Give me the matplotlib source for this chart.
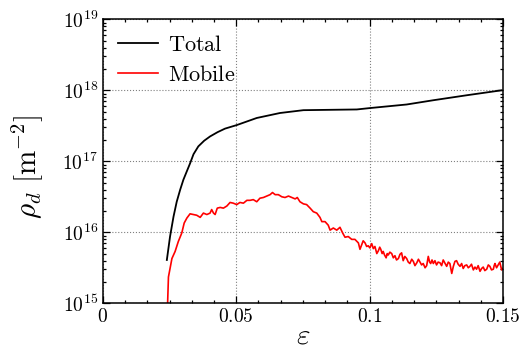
#!/usr/bin/env python3
import numpy as np
import matplotlib
matplotlib.use("Agg")
import matplotlib.pyplot as plt
from matplotlib.ticker import MultipleLocator, LogLocator, NullFormatter

plt.rcParams['font.family'] = 'serif'
plt.rcParams['font.serif'] = ['cmr10']
plt.rcParams['mathtext.fontset'] = 'cm'
plt.rcParams['axes.formatter.use_mathtext'] = True

# total dislocation density (log10 of rho, m^-2)
eps_total = [0.0240, 0.0252, 0.0265, 0.0277, 0.0290, 0.0302, 0.0315, 0.0327,
             0.0340, 0.0358, 0.0380, 0.0402, 0.0430, 0.0458, 0.0502, 0.0577,
             0.0664, 0.0752, 0.0952, 0.1002, 0.1139, 0.1239, 0.1364, 0.1495]
log_total = [15.61, 15.94, 16.22, 16.43, 16.60, 16.74, 16.86, 16.97,
             17.10, 17.21, 17.29, 17.35, 17.41, 17.46, 17.51, 17.61,
             17.68, 17.72, 17.73, 17.75, 17.80, 17.86, 17.93, 18.00]

# mobile dislocation density (log10)
eps_mobile = [0.0242, 0.0246, 0.0259, 0.0271, 0.0283, 0.0296, 0.0305, 0.0315,
              0.0327, 0.0340, 0.0352, 0.0365, 0.0377, 0.0390, 0.0402, 0.0408,
              0.0415, 0.0421, 0.0429, 0.0440, 0.0452, 0.0465, 0.0477, 0.0489,
              0.0502, 0.0514, 0.0527, 0.0540, 0.0552, 0.0564, 0.0577, 0.0589,
              0.0602, 0.0614, 0.0627, 0.0636, 0.0646, 0.0658, 0.0671, 0.0683,
              0.0696, 0.0708, 0.0721, 0.0729, 0.0739, 0.0752, 0.0764, 0.0777,
              0.0789, 0.0802, 0.0814, 0.0821, 0.0833, 0.0845, 0.0852, 0.0864,
              0.0877, 0.0889, 0.0899, 0.0908, 0.0920, 0.0933, 0.0945, 0.0958,
              0.0964, 0.0970, 0.0976, 0.0983, 0.0989, 0.0995, 0.1001, 0.1008,
              0.1014, 0.1020, 0.1027, 0.1033, 0.1038, 0.1042, 0.1047, 0.1051,
              0.1056, 0.1062, 0.1066, 0.1070, 0.1076, 0.1083, 0.1089, 0.1095,
              0.1101, 0.1108, 0.1114, 0.1120, 0.1126, 0.1132, 0.1139, 0.1145,
              0.1151, 0.1158, 0.1164, 0.1170, 0.1177, 0.1183, 0.1189, 0.1195,
              0.1201, 0.1208, 0.1214, 0.1220, 0.1225, 0.1229, 0.1234, 0.1239,
              0.1245, 0.1251, 0.1257, 0.1264, 0.1270, 0.1276, 0.1283, 0.1289,
              0.1295, 0.1301, 0.1305, 0.1308, 0.1314, 0.1320, 0.1326, 0.1332,
              0.1339, 0.1345, 0.1351, 0.1357, 0.1364, 0.1370, 0.1376, 0.1382,
              0.1389, 0.1395, 0.1401, 0.1407, 0.1414, 0.1420, 0.1426, 0.1432,
              0.1439, 0.1445, 0.1451, 0.1457, 0.1464, 0.1467, 0.1470, 0.1476,
              0.1482, 0.1488, 0.1495, 0.1500]
log_mobile = [14.90, 15.37, 15.63, 15.73, 15.87, 15.99, 16.13, 16.20,
              16.26, 16.25, 16.24, 16.21, 16.27, 16.25, 16.27, 16.32,
              16.27, 16.25, 16.34, 16.35, 16.34, 16.37, 16.42, 16.41,
              16.39, 16.42, 16.41, 16.45, 16.45, 16.46, 16.43, 16.48,
              16.49, 16.51, 16.53, 16.56, 16.53, 16.53, 16.50, 16.49,
              16.51, 16.49, 16.47, 16.49, 16.43, 16.40, 16.39, 16.34,
              16.29, 16.27, 16.21, 16.15, 16.15, 16.10, 16.03, 16.06,
              16.03, 16.07, 15.99, 15.93, 15.94, 15.90, 15.90, 15.85,
              15.76, 15.82, 15.88, 15.85, 15.80, 15.81, 15.78, 15.84,
              15.77, 15.80, 15.70, 15.74, 15.79, 15.76, 15.70, 15.73,
              15.68, 15.64, 15.70, 15.68, 15.72, 15.70, 15.64, 15.67,
              15.61, 15.63, 15.69, 15.71, 15.60, 15.66, 15.63, 15.58,
              15.56, 15.62, 15.59, 15.53, 15.57, 15.62, 15.58, 15.54,
              15.56, 15.50, 15.53, 15.66, 15.58, 15.56, 15.61, 15.56,
              15.60, 15.54, 15.58, 15.57, 15.53, 15.61, 15.56, 15.52,
              15.58, 15.56, 15.48, 15.42, 15.52, 15.59, 15.60, 15.55,
              15.52, 15.56, 15.49, 15.53, 15.54, 15.50, 15.52, 15.55,
              15.47, 15.51, 15.48, 15.53, 15.45, 15.49, 15.51, 15.46,
              15.48, 15.54, 15.52, 15.47, 15.48, 15.53, 15.56, 15.50,
              15.54, 15.58, 15.47, 15.49]

fig = plt.figure(figsize=(5.3, 3.51), dpi=100)
ax = fig.add_axes([0.194, 0.136, 0.755, 0.809])

ax.plot(eps_total, 10 ** np.array(log_total), color='black', lw=1.3, label=r'$\mathrm{Total}$')
ax.plot(eps_mobile, 10 ** np.array(log_mobile), color='red', lw=1.2, label=r'$\mathrm{Mobile}$')

ax.set_yscale('log')
ax.set_xlim(0, 0.15)
ax.set_ylim(1e15, 1e19)
ax.set_xticks([0, 0.05, 0.1, 0.15])
ax.set_xticklabels([r'$0$', r'$0.05$', r'$0.1$', r'$0.15$'])
ax.xaxis.set_minor_locator(MultipleLocator(0.05 / 6))
ax.yaxis.set_major_locator(LogLocator(base=10, numticks=10))
ax.yaxis.set_minor_locator(LogLocator(base=10, subs=np.arange(2, 10), numticks=20))
ax.yaxis.set_minor_formatter(NullFormatter())

ax.tick_params(which='both', direction='in', top=True, right=True, labelsize=14, width=0.9)
ax.tick_params(which='major', length=5)
ax.tick_params(which='minor', length=2.5)
for s in ax.spines.values():
    s.set_linewidth(1.1)

ax.grid(True, which='major', linestyle=':', color='gray', lw=0.8)

ax.set_xlabel(r'$\varepsilon$', fontsize=21, labelpad=-2)
ax.set_ylabel(r'$\rho_d\ [\mathrm{m}^{-2}]$', fontsize=21)
ax.yaxis.set_label_coords(-0.145, 0.48)

ax.legend(loc='upper left', frameon=False, fontsize=16, handlelength=1.8,
          handletextpad=0.45, labelspacing=0.45, borderaxespad=0.3)

fig.savefig('out.png', dpi=100)
print("[plot] wrote out.png")
